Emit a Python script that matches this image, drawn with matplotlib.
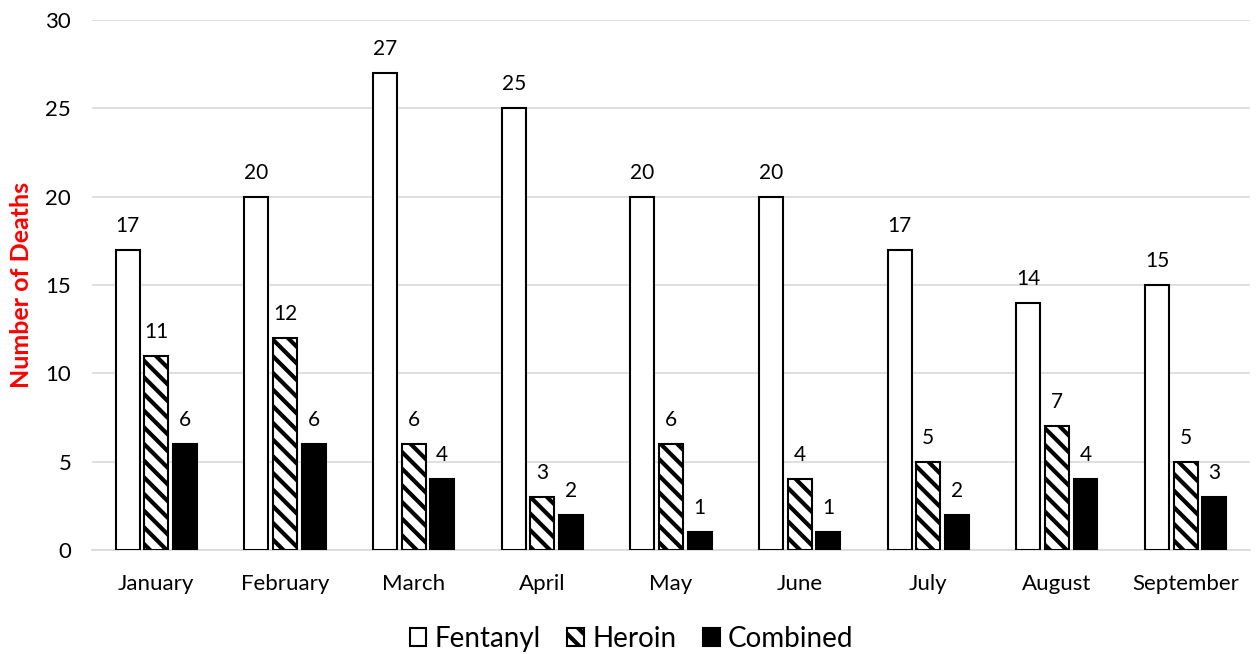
import matplotlib
matplotlib.use("Agg")
import matplotlib.pyplot as plt
import numpy as np

MONTHS = ["January", "February", "March", "April", "May", "June",
          "July", "August", "September"]
FENTANYL = [17, 20, 27, 25, 20, 20, 17, 14, 15]
HEROIN = [11, 12, 6, 3, 6, 4, 5, 7, 5]
COMBINED = [6, 6, 4, 2, 1, 1, 2, 4, 3]
Y_TICKS = [0, 5, 10, 15, 20, 25, 30]

plt.rcParams["font.family"] = ["Lato", "DejaVu Sans"]
plt.rcParams["hatch.linewidth"] = 3.0

fig = plt.figure(figsize=(12.57, 6.54), dpi=100)
ax = fig.add_axes([0.0732, 0.159, 0.9212, 0.8104])

x = np.arange(len(MONTHS))
width = 0.186
step = 0.222

series = [
    ("Fentanyl", FENTANYL, dict(facecolor="white", edgecolor="black")),
    ("Heroin", HEROIN, dict(facecolor="white", edgecolor="black", hatch="\\\\")),
    ("Combined", COMBINED, dict(facecolor="black", edgecolor="black")),
]

for i, (name, values, style) in enumerate(series):
    bars = ax.bar(x + (i - 1) * step, values, width, label=name,
                  linewidth=1.5, zorder=3, **style)
    for bar, v in zip(bars, values):
        ax.annotate(str(v), (bar.get_x() + bar.get_width() / 2, v),
                    xytext=(0, 10), textcoords="offset points",
                    ha="center", va="bottom", fontsize=15)

ax.set_xlim(-0.5, len(MONTHS) - 0.5)
ax.set_ylim(0, 30)
ax.set_yticks(Y_TICKS)
ax.set_xticks(x)
ax.set_xticklabels(MONTHS)
ax.tick_params(axis="both", length=0, labelsize=16)
ax.tick_params(axis="x", pad=17)
ax.tick_params(axis="y", pad=15)
ax.yaxis.grid(True, color="#d9d9d9", linewidth=1.2, zorder=0)
for side in ["top", "right", "left"]:
    ax.spines[side].set_visible(False)
ax.spines["bottom"].set_color("#d9d9d9")
ax.spines["bottom"].set_linewidth(1.2)

ax.set_ylabel("Number of Deaths", color="red", fontweight="bold", fontsize=18)
ax.yaxis.set_label_coords(-0.051, 0.5)

ax.legend(loc="center", bbox_to_anchor=(0.466, -0.167), ncol=3,
          frameon=False, fontsize=20, handlelength=0.6, handleheight=0.6,
          handletextpad=0.3, columnspacing=0.95, borderpad=0.1)

fig.savefig("out.png", dpi=100)
